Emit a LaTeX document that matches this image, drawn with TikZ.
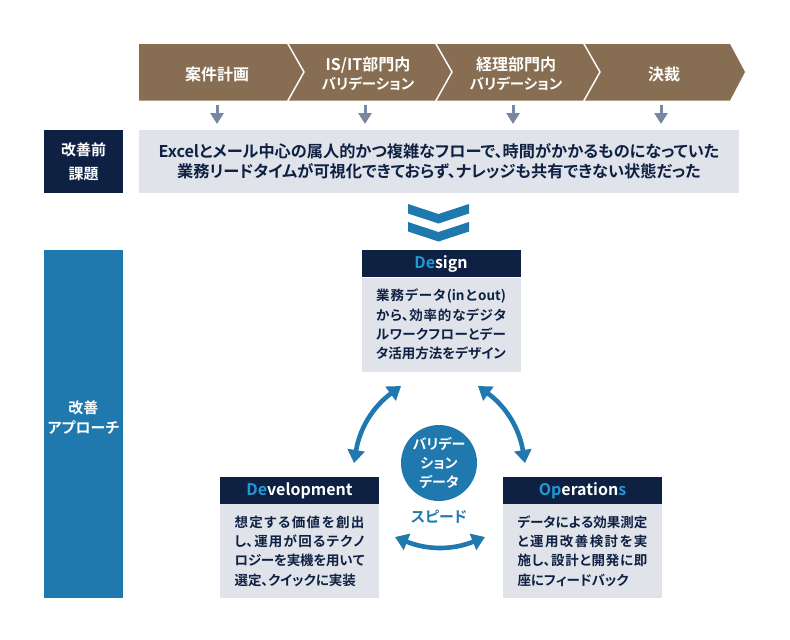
\documentclass[tikz,border=0pt]{standalone}
\usepackage{fontspec}
\setmainfont{Noto Sans CJK JP}[BoldFont={Noto Sans CJK JP Bold},RawFeature=+palt]
\XeTeXlinebreaklocale "ja"
\XeTeXlinebreakskip=0pt plus 3pt minus 0.5pt
\usetikzlibrary{arrows.meta}
\definecolor{brownstep}{HTML}{876E52}
\definecolor{navybox}{HTML}{0F2143}
\definecolor{greybox}{HTML}{E0E4EA}
\definecolor{bluemain}{HTML}{1F78AE}
\definecolor{bluelight}{HTML}{1E9AD6}
\definecolor{greyarrow}{HTML}{76879F}
\newcommand{\kanaline}[1]{{\fontsize{14.5}{19}\selectfont #1}}
\begin{document}
\begin{tikzpicture}[x=1pt,y=-1pt]

      \tikzset{stepfill/.style={fill=brownstep},
        steptext/.style={text=white, font=\bfseries\fontsize{16}{19}\selectfont, align=center, inner sep=0pt},
        navylabel/.style={fill=navybox, text=white, font=\bfseries\fontsize{15}{24}\selectfont, align=center, inner sep=0pt, outer sep=0pt, minimum width=79pt},
        headbox/.style={fill=navybox, text=white, font=\bfseries\fontsize{16}{18}\selectfont, inner sep=0pt, outer sep=0pt, minimum width=159pt, minimum height=27pt},
        bodybox/.style={fill=greybox, text=navybox, font=\bfseries\fontsize{13.5}{19.3}\selectfont\sloppy, align=justify, text width=130pt, inner xsep=14.5pt, inner ysep=0pt, outer sep=0pt, minimum height=94pt},
        downarrow/.style={draw=greyarrow, line width=3pt, -{Triangle[length=11pt,width=13pt]}},
        looparrow/.style={draw=bluemain, line width=4.6pt, {Triangle[length=13pt,width=17pt]}-{Triangle[length=13pt,width=17pt]}}}
      \useasboundingbox (0,0) rectangle (790,640);
%% Steps
      	\fill[stepfill] (139,44) -- (287,44) -- (303,72) -- (287,100.5) -- (139,100.5) -- cycle;
      	\fill[stepfill] (289,44) -- (435,44) -- (451,72) -- (435,100.5) -- (289,100.5) -- (305,72) -- cycle;
      	\fill[stepfill] (437,44) -- (583,44) -- (599,72) -- (583,100.5) -- (437,100.5) -- (453,72) -- cycle;
      	\fill[stepfill] (585,44) -- (730,44) -- (745,72) -- (730,100.5) -- (585,100.5) -- (601,72) -- cycle;
      	\node[steptext] (plan) at (217,74) {案件計画};
      	\node[steptext] (itcheck) at (368,74) {IS/IT部門内\\\kanaline{バリデーション}};
      	\node[steptext] (acccheck) at (516,74) {経理部門内\\\kanaline{バリデーション}};
      	\node[steptext] (approve) at (664,74) {決裁};
%% Issue row
      	\node[navylabel, minimum height=63pt] (issuelabel) at (83.5,161.5) {改善前\\課題};
      	\node[fill=greybox, text=navybox, font=\bfseries\fontsize{16.2}{20}\selectfont, align=center, inner sep=0pt, minimum width=600pt, minimum height=63pt] (issue) at (439,161.5) {Excelとメール中心の属人的かつ複雑なフローで、時間がかかるものになっていた\\業務リードタイムが可視化できておらず、ナレッジも共有できない状態だった};
%% Down arrows
      	\foreach \n/\x in {a/217,b/365,c/513,d/661}{
      		\coordinate (top\n) at (\x,105);
      		\coordinate (bot\n) at (\x,124);
      		\path[downarrow] (top\n) -- (bot\n);
      	}
%% Double chevron
      	\foreach \s in {0,18}{
      		\fill[bluemain] (408,204+\s) -- (438.5,214+\s) -- (469,204+\s) -- (469,213.5+\s) -- (438.5,223.5+\s) -- (408,213.5+\s) -- cycle;
      	}
%% Approach
      	\node[navylabel, fill=bluemain, minimum height=348pt] (approach) at (83.5,424) {};
      	\node[text=white, font=\bfseries\fontsize{15}{20}\selectfont, align=center, inner sep=0pt] (approachtext) at (83.5,418) {改善\\アプローチ};
      	\node[headbox] (design) at (441,263.5) {\textcolor{bluelight}{De}sign};
      	\node[bodybox] (designtext) at (441,324.5) {業務データ(inとout)\linebreak から、効率的なデジタ\linebreak ルワークフローとデー\linebreak タ活用方法をデザイン};
      	\node[headbox] (develop) at (299.5,490.5) {\textcolor{bluelight}{De}velopment};
      	\node[bodybox] (developtext) at (299.5,551) {想定する価値を創出\linebreak し、運用が回るテクノ\linebreak ロジーを実機を用いて\linebreak 選定、クイックに実装};
      	\node[headbox] (operate) at (582.5,490.5) {\textcolor{bluelight}{Op}eration\textcolor{bluelight}{s}};
      	\node[bodybox] (operatetext) at (582.5,551) {データによる効果測定\linebreak と運用改善検討を実\linebreak 施し、設計と開発に即\linebreak 座にフィードバック};
%Center
      	\node[circle, fill=bluemain, text=white, font=\bfseries\fontsize{14}{19}\selectfont, align=center, inner sep=0pt, minimum size=76pt] (valdata) at (439,463) {バリデー\\ション\\データ};
      	\node[text=bluemain, font=\bfseries\fontsize{15}{18}\selectfont, inner sep=0pt] (speed) at (439,517) {スピード};
%Edges
      	\coordinate (dl) at (401,386);
      	\coordinate (dr) at (478,386);
      	\coordinate (el) at (354,463);
      	\coordinate (or) at (525,463);
      	\coordinate (bl) at (395,537);
      	\coordinate (br) at (485,537);
      	\path[looparrow] (dl) to[bend right=22] (el);
      	\path[looparrow] (dr) to[bend left=22] (or);
      	\path[looparrow] (bl) to[bend right=22] (br);

	\end{tikzpicture}
\end{document}
